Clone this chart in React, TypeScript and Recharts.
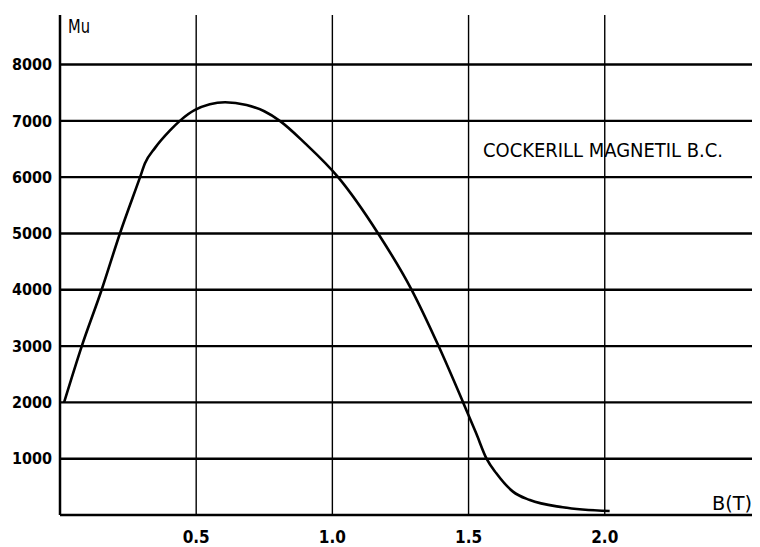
import React from 'react';
import { LineChart, Line, XAxis, YAxis, CartesianGrid, Label } from 'recharts';

// Flux density B [T] and relative permeability Mu
const fluxDensityT = [
  0.015, 0.08, 0.153, 0.22, 0.294, 0.312, 0.349, 0.404, 0.44, 0.494, 0.606,
  0.685, 0.75, 0.807, 0.9, 1.021, 1.168, 1.291, 1.39, 1.48, 1.528, 1.566,
  1.602, 1.663, 1.725, 1.846, 2.018,
];
const permeabilityMu = [
  2000, 3000, 4000, 5000, 6000, 6245, 6520, 6830, 7000, 7190, 7330,
  7280, 7170, 7000, 6600, 6000, 5000, 4000, 3000, 2000, 1450, 1000,
  740, 415, 265, 137, 70,
];
const xTicks = [0.5, 1.0, 1.5, 2.0];
const yTicks = [1000, 2000, 3000, 4000, 5000, 6000, 7000, 8000];
const materialName = 'COCKERILL MAGNETIL B.C.';
const yAxisTitle = 'Mu';
const xAxisTitle = 'B(T)';

const data = fluxDensityT.map((b, i) => ({ b, mu: permeabilityMu[i] }));

const FONT = '"DejaVu Sans Condensed", "DejaVu Sans", sans-serif';

const MuLabel = (props: any) => {
  const vb = props.viewBox || { x: 0, y: 15, width: 60, height: 500 };
  return (
    <text
      x={vb.x + vb.width + 8}
      y={vb.y + 18}
      fontFamily={FONT}
      fontSize={20}
      fill="#000"
      textLength={22}
      lengthAdjust="spacingAndGlyphs"
    >
      {yAxisTitle}
    </text>
  );
};

const BLabel = (props: any) => {
  const vb = props.viewBox || { x: 60, y: 515, width: 700, height: 32 };
  return (
    <text
      x={vb.x + vb.width - 48}
      y={vb.y - 5}
      fontFamily={FONT}
      fontSize={20}
      fill="#000"
      textLength={40}
      lengthAdjust="spacingAndGlyphs"
    >
      {xAxisTitle}
    </text>
  );
};

const NameLabel = (props: any) => {
  const vb = props.viewBox || { x: 60, y: 515, width: 700, height: 32 };
  return (
    <text
      x={vb.x + 423}
      y={vb.y - 358}
      fontFamily={FONT}
      fontSize={20}
      fill="#000"
      textLength={240}
      lengthAdjust="spacingAndGlyphs"
    >
      {materialName}
    </text>
  );
};

export default function App() {
  return (
    <div style={{ marginLeft: -8, marginTop: -8, background: '#fff', width: 760, height: 547 }}>
      <LineChart
        width={760}
        height={547}
        data={data}
        margin={{ top: 15, right: 0, left: 0, bottom: 0 }}
        style={{ background: '#fff' }}
      >
        <CartesianGrid horizontal={true} vertical={false} syncWithTicks stroke="#000" strokeWidth={2.4} />
        <CartesianGrid horizontal={false} vertical={true} syncWithTicks stroke="#000" strokeWidth={1.4} />
        <XAxis
          dataKey="b"
          type="number"
          domain={[0, 2.57]}
          ticks={xTicks}
          tickFormatter={(v: number) => v.toFixed(1)}
          height={32}
          tickLine={false}
          tickSize={0}
          tickMargin={16}
          axisLine={{ stroke: '#000', strokeWidth: 2.5 }}
          tick={{ fill: '#000', fontSize: 17, fontWeight: 'bold', fontFamily: FONT }}
          allowDataOverflow
        >
          <Label content={BLabel} />
          <Label content={NameLabel} />
        </XAxis>
        <YAxis
          type="number"
          domain={[0, 8880]}
          ticks={yTicks}
          width={60}
          tickLine={false}
          tickSize={0}
          tickMargin={8}
          axisLine={{ stroke: '#000', strokeWidth: 2.5 }}
          tick={{ fill: '#000', fontSize: 16, fontWeight: 'bold', fontFamily: FONT }}
          allowDataOverflow
        >
          <Label content={MuLabel} />
        </YAxis>
        <Line
          dataKey="mu"
          type="monotone"
          stroke="#000"
          strokeWidth={2.6}
          dot={false}
          isAnimationActive={false}
        />
      </LineChart>
    </div>
  );
}
